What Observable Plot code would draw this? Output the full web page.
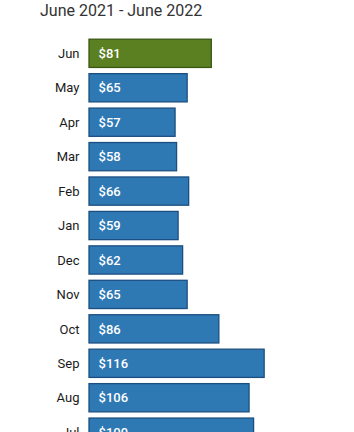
<!DOCTYPE html>
<html>
<head>
<meta charset="utf-8">
<script src="https://cdn.jsdelivr.net/npm/d3@7"></script>
<script src="https://cdn.jsdelivr.net/npm/@observablehq/plot@0.6"></script>
<style>
  html, body { margin: 0; padding: 0; background: #fff; overflow: hidden; }
  #wrap { position: relative; width: 354px; height: 432px; font-family: Roboto, sans-serif; }
  #title { position: absolute; left: 40px; top: 0px; font-size: 16px; line-height: 22px; color: #333; white-space: nowrap; }
  #chart { position: absolute; left: 0; top: 0; }
</style>
</head>
<body>
<div id="wrap">
  <div id="chart"></div>
  <div id="title">June 2021 - June 2022</div>
</div>
<script>
const months = ["Jun", "May", "Apr", "Mar", "Feb", "Jan", "Dec", "Nov", "Oct", "Sep", "Aug", "Jul"];
const values = [81, 65, 57, 58, 66, 59, 62, 65, 86, 116, 106, 109];
const highlighted = ["Jun"];

const data = months.map((m, i) => ({month: m, value: values[i], hi: highlighted.includes(m)}));

const chart = Plot.plot({
  width: 354,
  height: 470,
  marginLeft: 89,
  marginRight: 38.5,
  marginTop: 33,
  marginBottom: 17.5,
  style: {fontFamily: "Roboto, sans-serif", fontSize: "13px", color: "#1a1a1a", background: "transparent"},
  x: {domain: [0, 150], axis: null},
  y: {domain: months, padding: 0.18, round: false, label: null},
  marks: [
    Plot.barX(data, {
      x: "value", y: "month",
      fill: d => d.hi ? "#5a8022" : "#2e78b4",
      stroke: d => d.hi ? "#3a5712" : "#1c4f80",
      strokeWidth: 1.3
    }),
    Plot.text(data, {
      x: 0, y: "month", text: d => "$" + d.value,
      textAnchor: "start", dx: 9, fill: "white", fontSize: 13, fontWeight: 500
    }),
    Plot.axisY({tickSize: 0, tickPadding: 10, fontSize: 13, label: null})
  ]
});
document.getElementById("chart").appendChild(chart);
</script>
</body>
</html>
